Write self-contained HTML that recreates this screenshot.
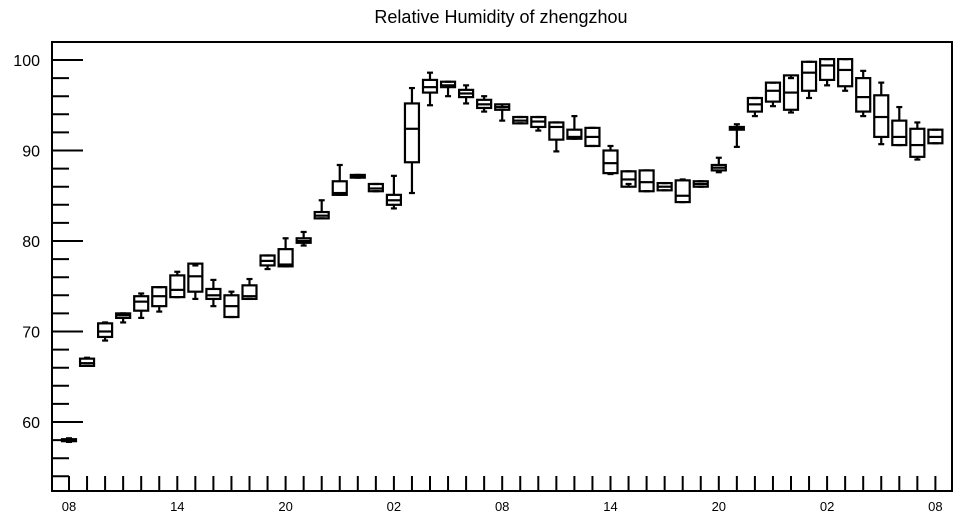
<!DOCTYPE html>
<html><head><meta charset="utf-8">
<style>
body{margin:0;background:#fff;}
svg{display:block;font-family:"Liberation Sans",sans-serif;}
</style></head>
<body>
<svg id="chart" width="957" height="520" viewBox="0 0 957 520" xmlns="http://www.w3.org/2000/svg">
<text x="501" y="23" font-size="18" text-anchor="middle">Relative Humidity of zhengzhou</text>
<rect x="52" y="42" width="900" height="449" fill="none" stroke="#000" stroke-width="2"/>
<g id="axes"></g>
<g id="boxes"></g>
</svg>
<script>
// [whiskerLow, q1, median, q3, whiskerHigh] per hour
const lows   = [57.8,66.2,69.0,71.0,71.5,72.2,73.8,73.6,72.8,71.6,73.6,76.9,77.2,79.5,82.5,85.1,87.0,85.5,83.6,85.3,95.0,96.0,95.2,94.3,93.3,93.0,92.2,89.9,91.3,90.5,87.4,86.3,85.5,85.6,84.3,86.0,87.6,90.4,93.8,94.9,94.2,95.8,97.2,96.6,93.8,90.7,90.6,89.0,90.8];
const q1s    = [57.9,66.2,69.4,71.5,72.3,72.8,73.8,74.4,73.6,71.6,73.6,77.3,77.2,79.8,82.5,85.1,87.0,85.5,84.0,88.7,96.4,97.0,95.9,94.7,94.5,93.0,92.6,91.2,91.3,90.5,87.5,86.0,85.5,85.6,84.3,86.0,87.8,92.3,94.3,95.4,94.5,96.6,97.8,97.1,94.3,91.5,90.6,89.3,90.8];
const medians= [58.0,66.5,70.0,71.8,73.3,73.9,74.6,76.1,74.0,72.8,73.9,77.8,77.4,80.0,82.8,85.3,87.1,85.8,84.5,92.4,97.0,97.2,96.3,95.1,94.8,93.3,93.2,92.6,91.5,91.5,88.6,86.8,86.5,86.0,85.0,86.3,88.1,92.4,95.1,96.6,96.4,98.6,99.4,98.9,95.9,93.7,91.5,90.6,91.5];
const q3s    = [58.1,67.0,70.9,72.0,73.9,74.9,76.2,77.5,74.7,74.0,75.1,78.4,79.1,80.3,83.2,86.6,87.3,86.3,85.1,95.2,97.8,97.6,96.7,95.6,95.1,93.7,93.7,93.1,92.3,92.5,90.0,87.7,87.8,86.4,86.7,86.6,88.4,92.6,95.8,97.5,98.3,99.8,100.1,100.1,98.0,96.1,93.3,92.4,92.3];
const highs  = [58.2,67.1,71.0,72.0,74.2,74.9,76.6,77.3,75.7,74.4,75.8,78.4,80.3,81.0,84.5,88.4,87.3,86.3,87.2,96.9,98.6,97.6,97.2,96.0,94.8,93.7,93.7,93.1,93.8,92.5,90.5,87.7,87.8,86.4,86.8,86.6,89.2,92.9,95.8,97.5,98.0,99.8,100.1,100.1,98.8,97.5,94.8,93.1,92.3];
const xTickLabels = ["08","14","20","02","08","14","20","02","08"];
const yTickLabels = [60,70,80,90,100];

const NS="http://www.w3.org/2000/svg";
const X0=69, DX=18.05;
function xScale(i){return X0+i*DX;}
function yScale(v){return 60+(100-v)*9.05;}
function mk(tag,attrs,parent){const e=document.createElementNS(NS,tag);for(const k in attrs)e.setAttribute(k,attrs[k]);parent.appendChild(e);return e;}
const axes=document.getElementById('axes'), boxes=document.getElementById('boxes');

// y ticks
for(let v=54; v<=102; v+=2){
  const y=yScale(v); if(y<42||y>491) continue;
  const major=(v%10===0);
  const t=mk('line',{x1:52,x2:major?83:69,y1:y,y2:y,stroke:'#000','stroke-width':2},axes);
  
  
}
yTickLabels.forEach(v=>{
  const t=mk('text',{x:40,y:yScale(v)+6,'font-size':16,'text-anchor':'end'},axes);
  t.textContent=v;
  
  
});
// x ticks
for(let i=0;i<medians.length;i++){
  const x=xScale(i);
  const t=mk('line',{x1:x,x2:x,y1:476,y2:491,stroke:'#000','stroke-width':2},axes);
  
  
}
xTickLabels.forEach((s,k)=>{
  const t=mk('text',{x:xScale(k*6),y:511,'font-size':13,'text-anchor':'middle'},axes);
  t.textContent=s;
  
  
});
// boxes
for(let i=0;i<medians.length;i++){
  const x=xScale(i), w=14;
  const g=mk('g',{stroke:'#000','stroke-width':2.2,fill:'none'},boxes);
  
  
  const yl=yScale(lows[i]), yh=yScale(highs[i]), y1=yScale(q1s[i]), y3=yScale(q3s[i]), ym=yScale(medians[i]);
  mk('line',{x1:x,x2:x,y1:yh,y2:y3},g);
  mk('line',{x1:x,x2:x,y1:y1,y2:yl},g);
  mk('line',{x1:x-3,x2:x+3,y1:yh,y2:yh},g);
  mk('line',{x1:x-3,x2:x+3,y1:yl,y2:yl},g);
  mk('rect',{x:x-w/2,y:y3,width:w,height:Math.max(y1-y3,2)},g);
  mk('line',{x1:x-w/2,x2:x+w/2,y1:ym,y2:ym},g);
}
</script>
</body></html>
